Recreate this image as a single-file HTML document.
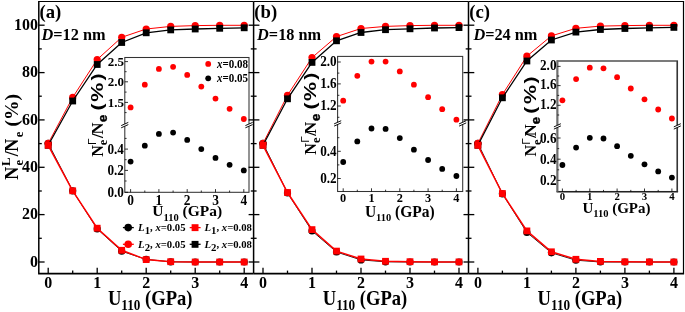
<!DOCTYPE html>
<html lang="en"><head><meta charset="utf-8"><title>Figure</title>
<style>html,body{margin:0;padding:0;background:#fff}svg{display:block;will-change:transform}</style>
</head><body>
<svg width="685" height="312" viewBox="0 0 685 312">
<rect width="685" height="312" fill="#fff"/>
<polyline fill="none" stroke="#000" stroke-width="0.90" points="48.2,143.4 72.7,190.8 97.2,228.9 121.7,251.2 146.2,259.4 170.7,261.8 195.2,262.0 219.7,262.0 244.2,262.0"/>
<circle cx="48.2" cy="143.4" r="3.60" fill="#000"/>
<circle cx="72.7" cy="190.8" r="3.60" fill="#000"/>
<circle cx="97.2" cy="228.9" r="3.60" fill="#000"/>
<circle cx="121.7" cy="251.2" r="3.60" fill="#000"/>
<circle cx="146.2" cy="259.4" r="3.60" fill="#000"/>
<circle cx="170.7" cy="261.8" r="3.60" fill="#000"/>
<circle cx="195.2" cy="262.0" r="3.60" fill="#000"/>
<circle cx="219.7" cy="262.0" r="3.60" fill="#000"/>
<circle cx="244.2" cy="262.0" r="3.60" fill="#000"/>
<polyline fill="none" stroke="#f00" stroke-width="1.00" points="48.2,143.4 72.7,97.4 97.2,59.5 121.7,37.3 146.2,29.0 170.7,26.4 195.2,25.6 219.7,25.3 244.2,25.3"/>
<circle cx="48.2" cy="143.4" r="3.60" fill="#f00"/>
<circle cx="72.7" cy="97.4" r="3.60" fill="#f00"/>
<circle cx="97.2" cy="59.5" r="3.60" fill="#f00"/>
<circle cx="121.7" cy="37.3" r="3.60" fill="#f00"/>
<circle cx="146.2" cy="29.0" r="3.60" fill="#f00"/>
<circle cx="170.7" cy="26.4" r="3.60" fill="#f00"/>
<circle cx="195.2" cy="25.6" r="3.60" fill="#f00"/>
<circle cx="219.7" cy="25.3" r="3.60" fill="#f00"/>
<circle cx="244.2" cy="25.3" r="3.60" fill="#f00"/>
<polyline fill="none" stroke="#000" stroke-width="1.30" points="48.2,145.3 72.7,101.0 97.2,64.5 121.7,42.5 146.2,32.8 170.7,29.9 195.2,29.0 219.7,28.3 244.2,27.8"/>
<rect x="44.8" y="141.9" width="6.8" height="6.8" fill="#000"/>
<rect x="69.3" y="97.6" width="6.8" height="6.8" fill="#000"/>
<rect x="93.8" y="61.1" width="6.8" height="6.8" fill="#000"/>
<rect x="118.3" y="39.1" width="6.8" height="6.8" fill="#000"/>
<rect x="142.8" y="29.4" width="6.8" height="6.8" fill="#000"/>
<rect x="167.3" y="26.5" width="6.8" height="6.8" fill="#000"/>
<rect x="191.8" y="25.6" width="6.8" height="6.8" fill="#000"/>
<rect x="216.3" y="24.9" width="6.8" height="6.8" fill="#000"/>
<rect x="240.8" y="24.4" width="6.8" height="6.8" fill="#000"/>
<polyline fill="none" stroke="#f00" stroke-width="1.50" points="48.2,145.3 72.7,190.8 97.2,228.2 121.7,250.3 146.2,259.6 170.7,261.7 195.2,262.0 219.7,262.0 244.2,262.0"/>
<rect x="44.8" y="141.9" width="6.8" height="6.8" fill="#f00"/>
<rect x="69.3" y="187.4" width="6.8" height="6.8" fill="#f00"/>
<rect x="93.8" y="224.8" width="6.8" height="6.8" fill="#f00"/>
<rect x="118.3" y="246.9" width="6.8" height="6.8" fill="#f00"/>
<rect x="142.8" y="256.2" width="6.8" height="6.8" fill="#f00"/>
<rect x="167.3" y="258.3" width="6.8" height="6.8" fill="#f00"/>
<rect x="191.8" y="258.6" width="6.8" height="6.8" fill="#f00"/>
<rect x="216.3" y="258.6" width="6.8" height="6.8" fill="#f00"/>
<rect x="240.8" y="258.6" width="6.8" height="6.8" fill="#f00"/>
<rect x="124.8" y="57.5" width="124.2" height="134.8" fill="#fff" stroke="#333" stroke-width="1.05"/>
<rect x="123.3" y="123.9" width="3" height="2.4" fill="#fff"/>
<line x1="121.2" y1="125.6" x2="128.3" y2="122.4" stroke="#000" stroke-width="0.95"/>
<line x1="121.2" y1="127.8" x2="128.3" y2="124.6" stroke="#000" stroke-width="0.95"/>
<rect x="247.5" y="123.9" width="3" height="2.4" fill="#fff"/>
<line x1="245.4" y1="125.6" x2="252.6" y2="122.4" stroke="#000" stroke-width="0.95"/>
<line x1="245.4" y1="127.8" x2="252.6" y2="124.6" stroke="#000" stroke-width="0.95"/>
<line x1="124.8" y1="61.6" x2="128.0" y2="61.6" stroke="#000" stroke-width="0.80"/>
<text transform="translate(123.90 65.70) scale(1 1.000)" font-family='"Liberation Serif", "DejaVu Serif", serif' font-size="13.0" font-weight="bold" text-anchor="end" >2.5</text>
<line x1="124.8" y1="81.8" x2="128.0" y2="81.8" stroke="#000" stroke-width="0.80"/>
<text transform="translate(123.90 85.90) scale(1 1.000)" font-family='"Liberation Serif", "DejaVu Serif", serif' font-size="13.0" font-weight="bold" text-anchor="end" >2.0</text>
<line x1="124.8" y1="102.4" x2="128.0" y2="102.4" stroke="#000" stroke-width="0.80"/>
<text transform="translate(123.90 106.50) scale(1 1.000)" font-family='"Liberation Serif", "DejaVu Serif", serif' font-size="13.0" font-weight="bold" text-anchor="end" >1.5</text>
<line x1="124.8" y1="149.1" x2="128.0" y2="149.1" stroke="#000" stroke-width="0.80"/>
<text transform="translate(123.90 153.60) scale(1 1.150)" font-family='"Liberation Serif", "DejaVu Serif", serif' font-size="13.2" font-weight="bold" text-anchor="end" >0.4</text>
<line x1="124.8" y1="170.4" x2="128.0" y2="170.4" stroke="#000" stroke-width="0.80"/>
<text transform="translate(123.90 174.90) scale(1 1.150)" font-family='"Liberation Serif", "DejaVu Serif", serif' font-size="13.2" font-weight="bold" text-anchor="end" >0.2</text>
<line x1="124.8" y1="192.3" x2="128.0" y2="192.3" stroke="#000" stroke-width="0.80"/>
<text transform="translate(123.90 196.80) scale(1 1.150)" font-family='"Liberation Serif", "DejaVu Serif", serif' font-size="13.2" font-weight="bold" text-anchor="end" >0.0</text>
<line x1="124.8" y1="71.7" x2="126.6" y2="71.7" stroke="#000" stroke-width="0.80"/>
<line x1="124.8" y1="92.1" x2="126.6" y2="92.1" stroke="#000" stroke-width="0.80"/>
<line x1="124.8" y1="112.6" x2="126.6" y2="112.6" stroke="#000" stroke-width="0.80"/>
<line x1="124.8" y1="138.4" x2="126.6" y2="138.4" stroke="#000" stroke-width="0.80"/>
<line x1="124.8" y1="159.7" x2="126.6" y2="159.7" stroke="#000" stroke-width="0.80"/>
<line x1="124.8" y1="181.0" x2="126.6" y2="181.0" stroke="#000" stroke-width="0.80"/>
<line x1="130.6" y1="192.3" x2="130.6" y2="189.1" stroke="#000" stroke-width="0.80"/>
<text transform="translate(130.60 204.80) scale(1 1.050)" font-family='"Liberation Serif", "DejaVu Serif", serif' font-size="13.4" font-weight="bold" text-anchor="middle" >0</text>
<line x1="158.9" y1="192.3" x2="158.9" y2="189.1" stroke="#000" stroke-width="0.80"/>
<text transform="translate(158.90 204.80) scale(1 1.050)" font-family='"Liberation Serif", "DejaVu Serif", serif' font-size="13.4" font-weight="bold" text-anchor="middle" >1</text>
<line x1="187.2" y1="192.3" x2="187.2" y2="189.1" stroke="#000" stroke-width="0.80"/>
<text transform="translate(187.20 204.80) scale(1 1.050)" font-family='"Liberation Serif", "DejaVu Serif", serif' font-size="13.4" font-weight="bold" text-anchor="middle" >2</text>
<line x1="215.5" y1="192.3" x2="215.5" y2="189.1" stroke="#000" stroke-width="0.80"/>
<text transform="translate(215.50 204.80) scale(1 1.050)" font-family='"Liberation Serif", "DejaVu Serif", serif' font-size="13.4" font-weight="bold" text-anchor="middle" >3</text>
<line x1="243.8" y1="192.3" x2="243.8" y2="189.1" stroke="#000" stroke-width="0.80"/>
<text transform="translate(243.80 204.80) scale(1 1.050)" font-family='"Liberation Serif", "DejaVu Serif", serif' font-size="13.4" font-weight="bold" text-anchor="middle" >4</text>
<line x1="144.8" y1="192.3" x2="144.8" y2="190.5" stroke="#000" stroke-width="0.80"/>
<line x1="173.1" y1="192.3" x2="173.1" y2="190.5" stroke="#000" stroke-width="0.80"/>
<line x1="201.3" y1="192.3" x2="201.3" y2="190.5" stroke="#000" stroke-width="0.80"/>
<line x1="229.6" y1="192.3" x2="229.6" y2="190.5" stroke="#000" stroke-width="0.80"/>
<circle cx="130.6" cy="107.4" r="2.90" fill="#f00"/>
<circle cx="130.6" cy="161.6" r="2.90" fill="#000"/>
<circle cx="144.8" cy="84.7" r="2.90" fill="#f00"/>
<circle cx="144.8" cy="145.7" r="2.90" fill="#000"/>
<circle cx="158.9" cy="68.9" r="2.90" fill="#f00"/>
<circle cx="158.9" cy="133.9" r="2.90" fill="#000"/>
<circle cx="173.1" cy="66.8" r="2.90" fill="#f00"/>
<circle cx="173.1" cy="132.6" r="2.90" fill="#000"/>
<circle cx="187.2" cy="74.9" r="2.90" fill="#f00"/>
<circle cx="187.2" cy="139.9" r="2.90" fill="#000"/>
<circle cx="201.3" cy="86.6" r="2.90" fill="#f00"/>
<circle cx="201.3" cy="149.1" r="2.90" fill="#000"/>
<circle cx="215.5" cy="98.6" r="2.90" fill="#f00"/>
<circle cx="215.5" cy="157.9" r="2.90" fill="#000"/>
<circle cx="229.6" cy="108.8" r="2.90" fill="#f00"/>
<circle cx="229.6" cy="164.8" r="2.90" fill="#000"/>
<circle cx="243.8" cy="119.0" r="2.90" fill="#f00"/>
<circle cx="243.8" cy="170.4" r="2.90" fill="#000"/>
<text transform="translate(187.20 216.40) scale(1 1.000)" font-family='"Liberation Serif", "DejaVu Serif", serif' font-size="15.5" font-weight="bold" text-anchor="middle" >U<tspan font-size="10.5" dy="4.2">110</tspan><tspan dy="-4.2"> (GPa)</tspan></text>
<text transform="translate(103.10 156.80) rotate(-90) scale(1.000 1.000)" font-family='"Liberation Serif", "DejaVu Serif", serif' font-size="16.2" font-weight="bold" >N</text>
<text transform="translate(95.90 144.90) rotate(-90) scale(1.100 1.000)" font-family='"Liberation Sans", "DejaVu Sans", sans-serif' font-size="10.8" font-weight="normal" >Γ</text>
<text transform="translate(106.80 145.20) rotate(-90) scale(1.000 1.000)" font-family='"Liberation Serif", "DejaVu Serif", serif' font-size="12.3" font-weight="bold" >e</text>
<text transform="translate(103.10 137.90) rotate(-90) scale(1.000 1.000)" font-family='"Liberation Serif", "DejaVu Serif", serif' font-size="16.2" font-weight="bold" >/</text>
<text transform="translate(103.10 134.60) rotate(-90) scale(1.000 1.000)" font-family='"Liberation Serif", "DejaVu Serif", serif' font-size="16.6" font-weight="bold" >N</text>
<text transform="translate(107.00 121.90) rotate(-90) scale(1.000 1.000)" font-family='"Liberation Sans", "DejaVu Sans", sans-serif' font-size="13.0" font-weight="bold" stroke="#000" stroke-width="0.35">e</text>
<text transform="translate(103.00 110.40) rotate(-90) scale(1.240 1.000)" font-family='"Liberation Sans", "DejaVu Sans", sans-serif' font-size="17.2" font-weight="bold" >(</text>
<text transform="translate(103.00 101.70) rotate(-90) scale(1.240 1.000)" font-family='"Liberation Sans", "DejaVu Sans", sans-serif' font-size="17.2" font-weight="bold" >%</text>
<text transform="translate(103.00 80.50) rotate(-90) scale(1.240 1.000)" font-family='"Liberation Sans", "DejaVu Sans", sans-serif' font-size="17.2" font-weight="bold" >)</text>
<line x1="38.1" y1="1.5" x2="253.6" y2="1.5" stroke="#000" stroke-width="1.10"/>
<line x1="38.1" y1="273.6" x2="253.6" y2="273.6" stroke="#000" stroke-width="1.80"/>
<line x1="38.8" y1="1.5" x2="38.8" y2="273.6" stroke="#000" stroke-width="1.50"/>
<line x1="38.8" y1="262.0" x2="44.6" y2="262.0" stroke="#000" stroke-width="1.30"/>
<line x1="38.8" y1="238.3" x2="41.8" y2="238.3" stroke="#000" stroke-width="1.30"/>
<line x1="38.8" y1="214.6" x2="44.6" y2="214.6" stroke="#000" stroke-width="1.30"/>
<line x1="38.8" y1="191.0" x2="41.8" y2="191.0" stroke="#000" stroke-width="1.30"/>
<line x1="38.8" y1="167.3" x2="44.6" y2="167.3" stroke="#000" stroke-width="1.30"/>
<line x1="38.8" y1="143.6" x2="41.8" y2="143.6" stroke="#000" stroke-width="1.30"/>
<line x1="38.8" y1="119.9" x2="44.6" y2="119.9" stroke="#000" stroke-width="1.30"/>
<line x1="38.8" y1="96.2" x2="41.8" y2="96.2" stroke="#000" stroke-width="1.30"/>
<line x1="38.8" y1="72.6" x2="44.6" y2="72.6" stroke="#000" stroke-width="1.30"/>
<line x1="38.8" y1="48.9" x2="41.8" y2="48.9" stroke="#000" stroke-width="1.30"/>
<line x1="38.8" y1="25.2" x2="44.6" y2="25.2" stroke="#000" stroke-width="1.30"/>
<line x1="48.2" y1="273.6" x2="48.2" y2="267.8" stroke="#000" stroke-width="1.30"/>
<text transform="translate(48.20 287.80) scale(1 1.100)" font-family='"Liberation Serif", "DejaVu Serif", serif' font-size="16.0" font-weight="bold" text-anchor="middle" >0</text>
<line x1="72.7" y1="273.6" x2="72.7" y2="270.6" stroke="#000" stroke-width="1.30"/>
<line x1="97.2" y1="273.6" x2="97.2" y2="267.8" stroke="#000" stroke-width="1.30"/>
<text transform="translate(97.20 287.80) scale(1 1.100)" font-family='"Liberation Serif", "DejaVu Serif", serif' font-size="16.0" font-weight="bold" text-anchor="middle" >1</text>
<line x1="121.7" y1="273.6" x2="121.7" y2="270.6" stroke="#000" stroke-width="1.30"/>
<line x1="146.2" y1="273.6" x2="146.2" y2="267.8" stroke="#000" stroke-width="1.30"/>
<text transform="translate(146.20 287.80) scale(1 1.100)" font-family='"Liberation Serif", "DejaVu Serif", serif' font-size="16.0" font-weight="bold" text-anchor="middle" >2</text>
<line x1="170.7" y1="273.6" x2="170.7" y2="270.6" stroke="#000" stroke-width="1.30"/>
<line x1="195.2" y1="273.6" x2="195.2" y2="267.8" stroke="#000" stroke-width="1.30"/>
<text transform="translate(195.20 287.80) scale(1 1.100)" font-family='"Liberation Serif", "DejaVu Serif", serif' font-size="16.0" font-weight="bold" text-anchor="middle" >3</text>
<line x1="219.7" y1="273.6" x2="219.7" y2="270.6" stroke="#000" stroke-width="1.30"/>
<line x1="244.2" y1="273.6" x2="244.2" y2="267.8" stroke="#000" stroke-width="1.30"/>
<text transform="translate(244.20 287.80) scale(1 1.100)" font-family='"Liberation Serif", "DejaVu Serif", serif' font-size="16.0" font-weight="bold" text-anchor="middle" >4</text>
<text transform="translate(150.20 305.00) scale(1 1.080)" font-family='"Liberation Serif", "DejaVu Serif", serif' font-size="18.6" font-weight="bold" text-anchor="middle" >U<tspan font-size="13.2" dy="5.0">110</tspan><tspan dy="-5.0"> (GPa)</tspan></text>
<text transform="translate(39.50 17.80) scale(1 1.040)" font-family='"Liberation Serif", "DejaVu Serif", serif' font-size="18.7" font-weight="bold" text-anchor="start" >(a)</text>
<text transform="translate(41.50 39.60) scale(1 1.050)" font-family='"Liberation Serif", "DejaVu Serif", serif' font-size="16.3" font-weight="bold" text-anchor="start" ><tspan font-style="italic">D</tspan>=12 nm</text>
<polyline fill="none" stroke="#000" stroke-width="0.90" points="263.0,143.4 287.5,193.0 312.0,230.9 336.5,252.0 361.0,259.9 385.5,261.8 410.0,262.0 434.5,262.0 459.0,262.0"/>
<circle cx="263.0" cy="143.4" r="3.60" fill="#000"/>
<circle cx="287.5" cy="193.0" r="3.60" fill="#000"/>
<circle cx="312.0" cy="230.9" r="3.60" fill="#000"/>
<circle cx="336.5" cy="252.0" r="3.60" fill="#000"/>
<circle cx="361.0" cy="259.9" r="3.60" fill="#000"/>
<circle cx="385.5" cy="261.8" r="3.60" fill="#000"/>
<circle cx="410.0" cy="262.0" r="3.60" fill="#000"/>
<circle cx="434.5" cy="262.0" r="3.60" fill="#000"/>
<circle cx="459.0" cy="262.0" r="3.60" fill="#000"/>
<polyline fill="none" stroke="#f00" stroke-width="1.00" points="263.0,143.4 287.5,95.3 312.0,57.6 336.5,36.6 361.0,28.5 385.5,26.4 410.0,25.6 434.5,25.3 459.0,25.3"/>
<circle cx="263.0" cy="143.4" r="3.60" fill="#f00"/>
<circle cx="287.5" cy="95.3" r="3.60" fill="#f00"/>
<circle cx="312.0" cy="57.6" r="3.60" fill="#f00"/>
<circle cx="336.5" cy="36.6" r="3.60" fill="#f00"/>
<circle cx="361.0" cy="28.5" r="3.60" fill="#f00"/>
<circle cx="385.5" cy="26.4" r="3.60" fill="#f00"/>
<circle cx="410.0" cy="25.6" r="3.60" fill="#f00"/>
<circle cx="434.5" cy="25.3" r="3.60" fill="#f00"/>
<circle cx="459.0" cy="25.3" r="3.60" fill="#f00"/>
<polyline fill="none" stroke="#000" stroke-width="1.30" points="263.0,145.3 287.5,98.8 312.0,62.4 336.5,40.8 361.0,32.5 385.5,29.7 410.0,28.8 434.5,28.0 459.0,27.6"/>
<rect x="259.6" y="141.9" width="6.8" height="6.8" fill="#000"/>
<rect x="284.1" y="95.4" width="6.8" height="6.8" fill="#000"/>
<rect x="308.6" y="59.0" width="6.8" height="6.8" fill="#000"/>
<rect x="333.1" y="37.4" width="6.8" height="6.8" fill="#000"/>
<rect x="357.6" y="29.1" width="6.8" height="6.8" fill="#000"/>
<rect x="382.1" y="26.3" width="6.8" height="6.8" fill="#000"/>
<rect x="406.6" y="25.4" width="6.8" height="6.8" fill="#000"/>
<rect x="431.1" y="24.6" width="6.8" height="6.8" fill="#000"/>
<rect x="455.6" y="24.2" width="6.8" height="6.8" fill="#000"/>
<polyline fill="none" stroke="#f00" stroke-width="1.50" points="263.0,145.3 287.5,192.5 312.0,229.6 336.5,251.1 361.0,259.0 385.5,261.3 410.0,261.7 434.5,261.9 459.0,261.9"/>
<rect x="259.6" y="141.9" width="6.8" height="6.8" fill="#f00"/>
<rect x="284.1" y="189.1" width="6.8" height="6.8" fill="#f00"/>
<rect x="308.6" y="226.2" width="6.8" height="6.8" fill="#f00"/>
<rect x="333.1" y="247.7" width="6.8" height="6.8" fill="#f00"/>
<rect x="357.6" y="255.6" width="6.8" height="6.8" fill="#f00"/>
<rect x="382.1" y="257.9" width="6.8" height="6.8" fill="#f00"/>
<rect x="406.6" y="258.3" width="6.8" height="6.8" fill="#f00"/>
<rect x="431.1" y="258.5" width="6.8" height="6.8" fill="#f00"/>
<rect x="455.6" y="258.5" width="6.8" height="6.8" fill="#f00"/>
<rect x="337.6" y="56.4" width="125.1" height="135.1" fill="#fff" stroke="#333" stroke-width="1.05"/>
<rect x="336.1" y="122.2" width="3" height="2.4" fill="#fff"/>
<line x1="334.1" y1="123.9" x2="341.2" y2="120.7" stroke="#000" stroke-width="0.95"/>
<line x1="334.1" y1="126.1" x2="341.2" y2="122.9" stroke="#000" stroke-width="0.95"/>
<rect x="461.2" y="122.2" width="3" height="2.4" fill="#fff"/>
<line x1="459.1" y1="123.9" x2="466.2" y2="120.7" stroke="#000" stroke-width="0.95"/>
<line x1="459.1" y1="126.1" x2="466.2" y2="122.9" stroke="#000" stroke-width="0.95"/>
<line x1="337.6" y1="62.0" x2="340.8" y2="62.0" stroke="#000" stroke-width="0.80"/>
<text transform="translate(336.70 65.80) scale(1 1.140)" font-family='"Liberation Serif", "DejaVu Serif", serif' font-size="13.2" font-weight="bold" text-anchor="end" >2.0</text>
<line x1="337.6" y1="83.9" x2="340.8" y2="83.9" stroke="#000" stroke-width="0.80"/>
<text transform="translate(336.70 87.70) scale(1 1.140)" font-family='"Liberation Serif", "DejaVu Serif", serif' font-size="13.2" font-weight="bold" text-anchor="end" >1.6</text>
<line x1="337.6" y1="106.0" x2="340.8" y2="106.0" stroke="#000" stroke-width="0.80"/>
<text transform="translate(336.70 109.80) scale(1 1.140)" font-family='"Liberation Serif", "DejaVu Serif", serif' font-size="13.2" font-weight="bold" text-anchor="end" >1.2</text>
<line x1="337.6" y1="151.3" x2="340.8" y2="151.3" stroke="#000" stroke-width="0.80"/>
<text transform="translate(336.70 155.80) scale(1 1.150)" font-family='"Liberation Serif", "DejaVu Serif", serif' font-size="13.2" font-weight="bold" text-anchor="end" >0.4</text>
<line x1="337.6" y1="178.5" x2="340.8" y2="178.5" stroke="#000" stroke-width="0.80"/>
<text transform="translate(336.70 183.00) scale(1 1.150)" font-family='"Liberation Serif", "DejaVu Serif", serif' font-size="13.2" font-weight="bold" text-anchor="end" >0.2</text>
<line x1="337.6" y1="73.1" x2="339.4" y2="73.1" stroke="#000" stroke-width="0.80"/>
<line x1="337.6" y1="95.3" x2="339.4" y2="95.3" stroke="#000" stroke-width="0.80"/>
<line x1="337.6" y1="117.3" x2="339.4" y2="117.3" stroke="#000" stroke-width="0.80"/>
<line x1="337.6" y1="137.7" x2="339.4" y2="137.7" stroke="#000" stroke-width="0.80"/>
<line x1="337.6" y1="164.9" x2="339.4" y2="164.9" stroke="#000" stroke-width="0.80"/>
<line x1="343.2" y1="191.5" x2="343.2" y2="188.3" stroke="#000" stroke-width="0.80"/>
<text transform="translate(343.20 201.60) scale(1 1.000)" font-family='"Liberation Serif", "DejaVu Serif", serif' font-size="12.3" font-weight="bold" text-anchor="middle" >0</text>
<line x1="371.5" y1="191.5" x2="371.5" y2="188.3" stroke="#000" stroke-width="0.80"/>
<text transform="translate(371.50 201.60) scale(1 1.000)" font-family='"Liberation Serif", "DejaVu Serif", serif' font-size="12.3" font-weight="bold" text-anchor="middle" >1</text>
<line x1="399.8" y1="191.5" x2="399.8" y2="188.3" stroke="#000" stroke-width="0.80"/>
<text transform="translate(399.80 201.60) scale(1 1.000)" font-family='"Liberation Serif", "DejaVu Serif", serif' font-size="12.3" font-weight="bold" text-anchor="middle" >2</text>
<line x1="428.1" y1="191.5" x2="428.1" y2="188.3" stroke="#000" stroke-width="0.80"/>
<text transform="translate(428.10 201.60) scale(1 1.000)" font-family='"Liberation Serif", "DejaVu Serif", serif' font-size="12.3" font-weight="bold" text-anchor="middle" >3</text>
<line x1="456.4" y1="191.5" x2="456.4" y2="188.3" stroke="#000" stroke-width="0.80"/>
<text transform="translate(456.40 201.60) scale(1 1.000)" font-family='"Liberation Serif", "DejaVu Serif", serif' font-size="12.3" font-weight="bold" text-anchor="middle" >4</text>
<line x1="357.3" y1="191.5" x2="357.3" y2="189.7" stroke="#000" stroke-width="0.80"/>
<line x1="385.6" y1="191.5" x2="385.6" y2="189.7" stroke="#000" stroke-width="0.80"/>
<line x1="413.9" y1="191.5" x2="413.9" y2="189.7" stroke="#000" stroke-width="0.80"/>
<line x1="442.2" y1="191.5" x2="442.2" y2="189.7" stroke="#000" stroke-width="0.80"/>
<circle cx="343.2" cy="100.7" r="2.90" fill="#f00"/>
<circle cx="343.2" cy="162.0" r="2.90" fill="#000"/>
<circle cx="357.3" cy="75.8" r="2.90" fill="#f00"/>
<circle cx="357.3" cy="141.4" r="2.90" fill="#000"/>
<circle cx="371.5" cy="61.6" r="2.90" fill="#f00"/>
<circle cx="371.5" cy="128.5" r="2.90" fill="#000"/>
<circle cx="385.6" cy="61.6" r="2.90" fill="#f00"/>
<circle cx="385.6" cy="128.9" r="2.90" fill="#000"/>
<circle cx="399.8" cy="71.4" r="2.90" fill="#f00"/>
<circle cx="399.8" cy="138.1" r="2.90" fill="#000"/>
<circle cx="413.9" cy="84.7" r="2.90" fill="#f00"/>
<circle cx="413.9" cy="149.7" r="2.90" fill="#000"/>
<circle cx="428.1" cy="97.2" r="2.90" fill="#f00"/>
<circle cx="428.1" cy="160.0" r="2.90" fill="#000"/>
<circle cx="442.2" cy="109.2" r="2.90" fill="#f00"/>
<circle cx="442.2" cy="168.9" r="2.90" fill="#000"/>
<circle cx="456.4" cy="119.7" r="2.90" fill="#f00"/>
<circle cx="456.4" cy="176.0" r="2.90" fill="#000"/>
<text transform="translate(399.80 216.60) scale(1 1.060)" font-family='"Liberation Serif", "DejaVu Serif", serif' font-size="15.5" font-weight="bold" text-anchor="middle" >U<tspan font-size="10.5" dy="4.2">110</tspan><tspan dy="-4.2"> (GPa)</tspan></text>
<text transform="translate(316.30 154.70) rotate(-90) scale(1.000 1.000)" font-family='"Liberation Serif", "DejaVu Serif", serif' font-size="16.2" font-weight="bold" >N</text>
<text transform="translate(309.10 142.80) rotate(-90) scale(1.100 1.000)" font-family='"Liberation Sans", "DejaVu Sans", sans-serif' font-size="10.8" font-weight="normal" >Γ</text>
<text transform="translate(320.00 143.10) rotate(-90) scale(1.000 1.000)" font-family='"Liberation Serif", "DejaVu Serif", serif' font-size="12.3" font-weight="bold" >e</text>
<text transform="translate(316.30 135.80) rotate(-90) scale(1.000 1.000)" font-family='"Liberation Serif", "DejaVu Serif", serif' font-size="16.2" font-weight="bold" >/</text>
<text transform="translate(316.30 133.80) rotate(-90) scale(1.000 1.000)" font-family='"Liberation Serif", "DejaVu Serif", serif' font-size="16.6" font-weight="bold" >N</text>
<text transform="translate(320.20 121.10) rotate(-90) scale(1.000 1.000)" font-family='"Liberation Sans", "DejaVu Sans", sans-serif' font-size="13.0" font-weight="bold" stroke="#000" stroke-width="0.35">e</text>
<text transform="translate(316.20 109.60) rotate(-90) scale(1.240 1.000)" font-family='"Liberation Sans", "DejaVu Sans", sans-serif' font-size="17.2" font-weight="bold" >(</text>
<text transform="translate(316.20 100.90) rotate(-90) scale(1.240 1.000)" font-family='"Liberation Sans", "DejaVu Sans", sans-serif' font-size="17.2" font-weight="bold" >%</text>
<text transform="translate(316.20 79.70) rotate(-90) scale(1.240 1.000)" font-family='"Liberation Sans", "DejaVu Sans", sans-serif' font-size="17.2" font-weight="bold" >)</text>
<line x1="253.6" y1="1.5" x2="468.5" y2="1.5" stroke="#000" stroke-width="1.10"/>
<line x1="253.6" y1="273.6" x2="468.5" y2="273.6" stroke="#000" stroke-width="1.80"/>
<line x1="253.6" y1="1.5" x2="253.6" y2="273.6" stroke="#000" stroke-width="1.50"/>
<line x1="253.6" y1="262.0" x2="259.4" y2="262.0" stroke="#000" stroke-width="1.30"/>
<line x1="248.6" y1="262.0" x2="253.6" y2="262.0" stroke="#000" stroke-width="1.30"/>
<line x1="253.6" y1="238.3" x2="256.6" y2="238.3" stroke="#000" stroke-width="1.30"/>
<line x1="250.8" y1="238.3" x2="253.6" y2="238.3" stroke="#000" stroke-width="1.30"/>
<line x1="253.6" y1="214.6" x2="259.4" y2="214.6" stroke="#000" stroke-width="1.30"/>
<line x1="248.6" y1="214.6" x2="253.6" y2="214.6" stroke="#000" stroke-width="1.30"/>
<line x1="253.6" y1="191.0" x2="256.6" y2="191.0" stroke="#000" stroke-width="1.30"/>
<line x1="250.8" y1="191.0" x2="253.6" y2="191.0" stroke="#000" stroke-width="1.30"/>
<line x1="253.6" y1="167.3" x2="259.4" y2="167.3" stroke="#000" stroke-width="1.30"/>
<line x1="248.6" y1="167.3" x2="253.6" y2="167.3" stroke="#000" stroke-width="1.30"/>
<line x1="253.6" y1="143.6" x2="256.6" y2="143.6" stroke="#000" stroke-width="1.30"/>
<line x1="250.8" y1="143.6" x2="253.6" y2="143.6" stroke="#000" stroke-width="1.30"/>
<line x1="253.6" y1="119.9" x2="259.4" y2="119.9" stroke="#000" stroke-width="1.30"/>
<line x1="248.6" y1="119.9" x2="253.6" y2="119.9" stroke="#000" stroke-width="1.30"/>
<line x1="253.6" y1="96.2" x2="256.6" y2="96.2" stroke="#000" stroke-width="1.30"/>
<line x1="250.8" y1="96.2" x2="253.6" y2="96.2" stroke="#000" stroke-width="1.30"/>
<line x1="253.6" y1="72.6" x2="259.4" y2="72.6" stroke="#000" stroke-width="1.30"/>
<line x1="248.6" y1="72.6" x2="253.6" y2="72.6" stroke="#000" stroke-width="1.30"/>
<line x1="253.6" y1="48.9" x2="256.6" y2="48.9" stroke="#000" stroke-width="1.30"/>
<line x1="250.8" y1="48.9" x2="253.6" y2="48.9" stroke="#000" stroke-width="1.30"/>
<line x1="253.6" y1="25.2" x2="259.4" y2="25.2" stroke="#000" stroke-width="1.30"/>
<line x1="248.6" y1="25.2" x2="253.6" y2="25.2" stroke="#000" stroke-width="1.30"/>
<line x1="263.0" y1="273.6" x2="263.0" y2="267.8" stroke="#000" stroke-width="1.30"/>
<text transform="translate(263.00 287.80) scale(1 1.100)" font-family='"Liberation Serif", "DejaVu Serif", serif' font-size="16.0" font-weight="bold" text-anchor="middle" >0</text>
<line x1="287.5" y1="273.6" x2="287.5" y2="270.6" stroke="#000" stroke-width="1.30"/>
<line x1="312.0" y1="273.6" x2="312.0" y2="267.8" stroke="#000" stroke-width="1.30"/>
<text transform="translate(312.00 287.80) scale(1 1.100)" font-family='"Liberation Serif", "DejaVu Serif", serif' font-size="16.0" font-weight="bold" text-anchor="middle" >1</text>
<line x1="336.5" y1="273.6" x2="336.5" y2="270.6" stroke="#000" stroke-width="1.30"/>
<line x1="361.0" y1="273.6" x2="361.0" y2="267.8" stroke="#000" stroke-width="1.30"/>
<text transform="translate(361.00 287.80) scale(1 1.100)" font-family='"Liberation Serif", "DejaVu Serif", serif' font-size="16.0" font-weight="bold" text-anchor="middle" >2</text>
<line x1="385.5" y1="273.6" x2="385.5" y2="270.6" stroke="#000" stroke-width="1.30"/>
<line x1="410.0" y1="273.6" x2="410.0" y2="267.8" stroke="#000" stroke-width="1.30"/>
<text transform="translate(410.00 287.80) scale(1 1.100)" font-family='"Liberation Serif", "DejaVu Serif", serif' font-size="16.0" font-weight="bold" text-anchor="middle" >3</text>
<line x1="434.5" y1="273.6" x2="434.5" y2="270.6" stroke="#000" stroke-width="1.30"/>
<line x1="459.0" y1="273.6" x2="459.0" y2="267.8" stroke="#000" stroke-width="1.30"/>
<text transform="translate(459.00 287.80) scale(1 1.100)" font-family='"Liberation Serif", "DejaVu Serif", serif' font-size="16.0" font-weight="bold" text-anchor="middle" >4</text>
<text transform="translate(365.00 305.00) scale(1 1.080)" font-family='"Liberation Serif", "DejaVu Serif", serif' font-size="18.6" font-weight="bold" text-anchor="middle" >U<tspan font-size="13.2" dy="5.0">110</tspan><tspan dy="-5.0"> (GPa)</tspan></text>
<text transform="translate(254.30 17.80) scale(1 1.040)" font-family='"Liberation Serif", "DejaVu Serif", serif' font-size="18.7" font-weight="bold" text-anchor="start" >(b)</text>
<text transform="translate(257.10 39.60) scale(1 1.050)" font-family='"Liberation Serif", "DejaVu Serif", serif' font-size="16.3" font-weight="bold" text-anchor="start" ><tspan font-style="italic">D</tspan>=18 nm</text>
<polyline fill="none" stroke="#000" stroke-width="0.90" points="477.9,143.4 502.4,193.8 526.9,232.4 551.4,252.8 575.9,260.2 600.4,262.0 624.9,262.0 649.4,262.0 673.9,262.0"/>
<circle cx="477.9" cy="143.4" r="3.60" fill="#000"/>
<circle cx="502.4" cy="193.8" r="3.60" fill="#000"/>
<circle cx="526.9" cy="232.4" r="3.60" fill="#000"/>
<circle cx="551.4" cy="252.8" r="3.60" fill="#000"/>
<circle cx="575.9" cy="260.2" r="3.60" fill="#000"/>
<circle cx="600.4" cy="262.0" r="3.60" fill="#000"/>
<circle cx="624.9" cy="262.0" r="3.60" fill="#000"/>
<circle cx="649.4" cy="262.0" r="3.60" fill="#000"/>
<circle cx="673.9" cy="262.0" r="3.60" fill="#000"/>
<polyline fill="none" stroke="#f00" stroke-width="1.00" points="477.9,143.4 502.4,94.6 526.9,56.2 551.4,35.9 575.9,28.3 600.4,26.1 624.9,25.6 649.4,25.3 673.9,25.3"/>
<circle cx="477.9" cy="143.4" r="3.60" fill="#f00"/>
<circle cx="502.4" cy="94.6" r="3.60" fill="#f00"/>
<circle cx="526.9" cy="56.2" r="3.60" fill="#f00"/>
<circle cx="551.4" cy="35.9" r="3.60" fill="#f00"/>
<circle cx="575.9" cy="28.3" r="3.60" fill="#f00"/>
<circle cx="600.4" cy="26.1" r="3.60" fill="#f00"/>
<circle cx="624.9" cy="25.6" r="3.60" fill="#f00"/>
<circle cx="649.4" cy="25.3" r="3.60" fill="#f00"/>
<circle cx="673.9" cy="25.3" r="3.60" fill="#f00"/>
<polyline fill="none" stroke="#000" stroke-width="1.30" points="477.9,145.3 502.4,97.8 526.9,61.0 551.4,40.0 575.9,32.1 600.4,29.5 624.9,28.5 649.4,27.9 673.9,27.4"/>
<rect x="474.5" y="141.9" width="6.8" height="6.8" fill="#000"/>
<rect x="499.0" y="94.4" width="6.8" height="6.8" fill="#000"/>
<rect x="523.5" y="57.6" width="6.8" height="6.8" fill="#000"/>
<rect x="548.0" y="36.6" width="6.8" height="6.8" fill="#000"/>
<rect x="572.5" y="28.7" width="6.8" height="6.8" fill="#000"/>
<rect x="597.0" y="26.1" width="6.8" height="6.8" fill="#000"/>
<rect x="621.5" y="25.1" width="6.8" height="6.8" fill="#000"/>
<rect x="646.0" y="24.5" width="6.8" height="6.8" fill="#000"/>
<rect x="670.5" y="24.0" width="6.8" height="6.8" fill="#000"/>
<polyline fill="none" stroke="#f00" stroke-width="1.50" points="477.9,145.3 502.4,193.5 526.9,230.9 551.4,251.8 575.9,259.3 600.4,261.4 624.9,261.8 649.4,261.9 673.9,262.0"/>
<rect x="474.5" y="141.9" width="6.8" height="6.8" fill="#f00"/>
<rect x="499.0" y="190.1" width="6.8" height="6.8" fill="#f00"/>
<rect x="523.5" y="227.5" width="6.8" height="6.8" fill="#f00"/>
<rect x="548.0" y="248.4" width="6.8" height="6.8" fill="#f00"/>
<rect x="572.5" y="255.9" width="6.8" height="6.8" fill="#f00"/>
<rect x="597.0" y="258.0" width="6.8" height="6.8" fill="#f00"/>
<rect x="621.5" y="258.4" width="6.8" height="6.8" fill="#f00"/>
<rect x="646.0" y="258.5" width="6.8" height="6.8" fill="#f00"/>
<rect x="670.5" y="258.6" width="6.8" height="6.8" fill="#f00"/>
<rect x="557.4" y="61.0" width="119.9" height="130.7" fill="#fff" stroke="#505050" stroke-width="1.50"/>
<line x1="556.6" y1="191.7" x2="678.1" y2="191.7" stroke="#222" stroke-width="1.30"/>
<line x1="677.3" y1="61.0" x2="677.3" y2="191.7" stroke="#333" stroke-width="1.20"/>
<line x1="557.4" y1="60.3" x2="557.4" y2="191.7" stroke="#6e6e6e" stroke-width="1.90"/>
<rect x="555.9" y="125.2" width="3" height="2.4" fill="#fff"/>
<line x1="553.9" y1="126.9" x2="560.9" y2="123.7" stroke="#000" stroke-width="0.95"/>
<line x1="553.9" y1="129.1" x2="560.9" y2="125.9" stroke="#000" stroke-width="0.95"/>
<rect x="675.8" y="125.2" width="3" height="2.4" fill="#fff"/>
<line x1="673.8" y1="126.9" x2="680.8" y2="123.7" stroke="#000" stroke-width="0.95"/>
<line x1="673.8" y1="129.1" x2="680.8" y2="125.9" stroke="#000" stroke-width="0.95"/>
<line x1="557.4" y1="66.4" x2="560.6" y2="66.4" stroke="#000" stroke-width="0.80"/>
<text transform="translate(556.50 70.20) scale(1 1.140)" font-family='"Liberation Serif", "DejaVu Serif", serif' font-size="13.2" font-weight="bold" text-anchor="end" >2.0</text>
<line x1="557.4" y1="85.6" x2="560.6" y2="85.6" stroke="#000" stroke-width="0.80"/>
<text transform="translate(556.50 89.40) scale(1 1.140)" font-family='"Liberation Serif", "DejaVu Serif", serif' font-size="13.2" font-weight="bold" text-anchor="end" >1.6</text>
<line x1="557.4" y1="105.3" x2="560.6" y2="105.3" stroke="#000" stroke-width="0.80"/>
<text transform="translate(556.50 109.10) scale(1 1.140)" font-family='"Liberation Serif", "DejaVu Serif", serif' font-size="13.2" font-weight="bold" text-anchor="end" >1.2</text>
<line x1="557.4" y1="138.0" x2="560.6" y2="138.0" stroke="#000" stroke-width="0.80"/>
<text transform="translate(556.50 142.50) scale(1 1.150)" font-family='"Liberation Serif", "DejaVu Serif", serif' font-size="13.2" font-weight="bold" text-anchor="end" >0.6</text>
<line x1="557.4" y1="159.2" x2="560.6" y2="159.2" stroke="#000" stroke-width="0.80"/>
<text transform="translate(556.50 163.70) scale(1 1.150)" font-family='"Liberation Serif", "DejaVu Serif", serif' font-size="13.2" font-weight="bold" text-anchor="end" >0.4</text>
<line x1="557.4" y1="180.4" x2="560.6" y2="180.4" stroke="#000" stroke-width="0.80"/>
<text transform="translate(556.50 184.90) scale(1 1.150)" font-family='"Liberation Serif", "DejaVu Serif", serif' font-size="13.2" font-weight="bold" text-anchor="end" >0.2</text>
<line x1="557.4" y1="76.0" x2="559.2" y2="76.0" stroke="#000" stroke-width="0.80"/>
<line x1="557.4" y1="95.4" x2="559.2" y2="95.4" stroke="#000" stroke-width="0.80"/>
<line x1="557.4" y1="115.0" x2="559.2" y2="115.0" stroke="#000" stroke-width="0.80"/>
<line x1="557.4" y1="148.6" x2="559.2" y2="148.6" stroke="#000" stroke-width="0.80"/>
<line x1="557.4" y1="169.8" x2="559.2" y2="169.8" stroke="#000" stroke-width="0.80"/>
<line x1="562.4" y1="191.7" x2="562.4" y2="188.5" stroke="#000" stroke-width="0.80"/>
<text transform="translate(562.40 200.20) scale(1 1.000)" font-family='"Liberation Serif", "DejaVu Serif", serif' font-size="10.8" font-weight="bold" text-anchor="middle" >0</text>
<line x1="589.8" y1="191.7" x2="589.8" y2="188.5" stroke="#000" stroke-width="0.80"/>
<text transform="translate(589.77 200.20) scale(1 1.000)" font-family='"Liberation Serif", "DejaVu Serif", serif' font-size="10.8" font-weight="bold" text-anchor="middle" >1</text>
<line x1="617.1" y1="191.7" x2="617.1" y2="188.5" stroke="#000" stroke-width="0.80"/>
<text transform="translate(617.14 200.20) scale(1 1.000)" font-family='"Liberation Serif", "DejaVu Serif", serif' font-size="10.8" font-weight="bold" text-anchor="middle" >2</text>
<line x1="644.5" y1="191.7" x2="644.5" y2="188.5" stroke="#000" stroke-width="0.80"/>
<text transform="translate(644.51 200.20) scale(1 1.000)" font-family='"Liberation Serif", "DejaVu Serif", serif' font-size="10.8" font-weight="bold" text-anchor="middle" >3</text>
<line x1="671.9" y1="191.7" x2="671.9" y2="188.5" stroke="#000" stroke-width="0.80"/>
<text transform="translate(671.88 200.20) scale(1 1.000)" font-family='"Liberation Serif", "DejaVu Serif", serif' font-size="10.8" font-weight="bold" text-anchor="middle" >4</text>
<line x1="576.1" y1="191.7" x2="576.1" y2="189.9" stroke="#000" stroke-width="0.80"/>
<line x1="603.5" y1="191.7" x2="603.5" y2="189.9" stroke="#000" stroke-width="0.80"/>
<line x1="630.8" y1="191.7" x2="630.8" y2="189.9" stroke="#000" stroke-width="0.80"/>
<line x1="658.2" y1="191.7" x2="658.2" y2="189.9" stroke="#000" stroke-width="0.80"/>
<circle cx="562.4" cy="100.3" r="2.90" fill="#f00"/>
<circle cx="562.4" cy="165.0" r="2.90" fill="#000"/>
<circle cx="576.1" cy="79.1" r="2.90" fill="#f00"/>
<circle cx="576.1" cy="147.6" r="2.90" fill="#000"/>
<circle cx="589.8" cy="67.7" r="2.90" fill="#f00"/>
<circle cx="589.8" cy="137.8" r="2.90" fill="#000"/>
<circle cx="603.5" cy="68.3" r="2.90" fill="#f00"/>
<circle cx="603.5" cy="138.5" r="2.90" fill="#000"/>
<circle cx="617.1" cy="77.2" r="2.90" fill="#f00"/>
<circle cx="617.1" cy="146.2" r="2.90" fill="#000"/>
<circle cx="630.8" cy="88.5" r="2.90" fill="#f00"/>
<circle cx="630.8" cy="155.8" r="2.90" fill="#000"/>
<circle cx="644.5" cy="99.3" r="2.90" fill="#f00"/>
<circle cx="644.5" cy="164.3" r="2.90" fill="#000"/>
<circle cx="658.2" cy="109.5" r="2.90" fill="#f00"/>
<circle cx="658.2" cy="171.4" r="2.90" fill="#000"/>
<circle cx="671.9" cy="118.5" r="2.90" fill="#f00"/>
<circle cx="671.9" cy="177.6" r="2.90" fill="#000"/>
<text transform="translate(616.44 212.80) scale(1 1.000)" font-family='"Liberation Serif", "DejaVu Serif", serif' font-size="15.0" font-weight="bold" text-anchor="middle" >U<tspan font-size="10.5" dy="4.2">110</tspan><tspan dy="-4.2"> (GPa)</tspan></text>
<text transform="translate(536.20 156.60) rotate(-90) scale(1.000 1.000)" font-family='"Liberation Serif", "DejaVu Serif", serif' font-size="16.2" font-weight="bold" >N</text>
<text transform="translate(530.00 144.70) rotate(-90) scale(1.100 1.000)" font-family='"Liberation Sans", "DejaVu Sans", sans-serif' font-size="10.8" font-weight="normal" >Γ</text>
<text transform="translate(540.90 145.00) rotate(-90) scale(1.000 1.000)" font-family='"Liberation Serif", "DejaVu Serif", serif' font-size="12.3" font-weight="bold" >e</text>
<text transform="translate(536.20 137.70) rotate(-90) scale(1.000 1.000)" font-family='"Liberation Serif", "DejaVu Serif", serif' font-size="16.2" font-weight="bold" >/</text>
<text transform="translate(536.20 136.30) rotate(-90) scale(1.000 1.000)" font-family='"Liberation Serif", "DejaVu Serif", serif' font-size="16.6" font-weight="bold" >N</text>
<text transform="translate(540.10 124.30) rotate(-90) scale(1.000 1.000)" font-family='"Liberation Sans", "DejaVu Sans", sans-serif' font-size="13.0" font-weight="bold" stroke="#000" stroke-width="0.35">e</text>
<text transform="translate(536.10 113.80) rotate(-90) scale(1.240 1.000)" font-family='"Liberation Sans", "DejaVu Sans", sans-serif' font-size="17.2" font-weight="bold" >(</text>
<text transform="translate(536.10 104.10) rotate(-90) scale(1.240 1.000)" font-family='"Liberation Sans", "DejaVu Sans", sans-serif' font-size="17.2" font-weight="bold" >%</text>
<text transform="translate(536.10 83.50) rotate(-90) scale(1.240 1.000)" font-family='"Liberation Sans", "DejaVu Sans", sans-serif' font-size="17.2" font-weight="bold" >)</text>
<line x1="468.5" y1="1.5" x2="684.1" y2="1.5" stroke="#000" stroke-width="1.10"/>
<line x1="468.5" y1="273.6" x2="684.1" y2="273.6" stroke="#000" stroke-width="1.80"/>
<line x1="468.5" y1="1.5" x2="468.5" y2="273.6" stroke="#000" stroke-width="1.50"/>
<line x1="683.5" y1="1.5" x2="683.5" y2="273.6" stroke="#000" stroke-width="1.20"/>
<line x1="468.5" y1="262.0" x2="474.3" y2="262.0" stroke="#000" stroke-width="1.30"/>
<line x1="463.5" y1="262.0" x2="468.5" y2="262.0" stroke="#000" stroke-width="1.30"/>
<line x1="468.5" y1="238.3" x2="471.5" y2="238.3" stroke="#000" stroke-width="1.30"/>
<line x1="465.7" y1="238.3" x2="468.5" y2="238.3" stroke="#000" stroke-width="1.30"/>
<line x1="468.5" y1="214.6" x2="474.3" y2="214.6" stroke="#000" stroke-width="1.30"/>
<line x1="463.5" y1="214.6" x2="468.5" y2="214.6" stroke="#000" stroke-width="1.30"/>
<line x1="468.5" y1="191.0" x2="471.5" y2="191.0" stroke="#000" stroke-width="1.30"/>
<line x1="465.7" y1="191.0" x2="468.5" y2="191.0" stroke="#000" stroke-width="1.30"/>
<line x1="468.5" y1="167.3" x2="474.3" y2="167.3" stroke="#000" stroke-width="1.30"/>
<line x1="463.5" y1="167.3" x2="468.5" y2="167.3" stroke="#000" stroke-width="1.30"/>
<line x1="468.5" y1="143.6" x2="471.5" y2="143.6" stroke="#000" stroke-width="1.30"/>
<line x1="465.7" y1="143.6" x2="468.5" y2="143.6" stroke="#000" stroke-width="1.30"/>
<line x1="468.5" y1="119.9" x2="474.3" y2="119.9" stroke="#000" stroke-width="1.30"/>
<line x1="463.5" y1="119.9" x2="468.5" y2="119.9" stroke="#000" stroke-width="1.30"/>
<line x1="468.5" y1="96.2" x2="471.5" y2="96.2" stroke="#000" stroke-width="1.30"/>
<line x1="465.7" y1="96.2" x2="468.5" y2="96.2" stroke="#000" stroke-width="1.30"/>
<line x1="468.5" y1="72.6" x2="474.3" y2="72.6" stroke="#000" stroke-width="1.30"/>
<line x1="463.5" y1="72.6" x2="468.5" y2="72.6" stroke="#000" stroke-width="1.30"/>
<line x1="468.5" y1="48.9" x2="471.5" y2="48.9" stroke="#000" stroke-width="1.30"/>
<line x1="465.7" y1="48.9" x2="468.5" y2="48.9" stroke="#000" stroke-width="1.30"/>
<line x1="468.5" y1="25.2" x2="474.3" y2="25.2" stroke="#000" stroke-width="1.30"/>
<line x1="463.5" y1="25.2" x2="468.5" y2="25.2" stroke="#000" stroke-width="1.30"/>
<line x1="477.9" y1="273.6" x2="477.9" y2="267.8" stroke="#000" stroke-width="1.30"/>
<text transform="translate(477.90 287.80) scale(1 1.100)" font-family='"Liberation Serif", "DejaVu Serif", serif' font-size="16.0" font-weight="bold" text-anchor="middle" >0</text>
<line x1="502.4" y1="273.6" x2="502.4" y2="270.6" stroke="#000" stroke-width="1.30"/>
<line x1="526.9" y1="273.6" x2="526.9" y2="267.8" stroke="#000" stroke-width="1.30"/>
<text transform="translate(526.90 287.80) scale(1 1.100)" font-family='"Liberation Serif", "DejaVu Serif", serif' font-size="16.0" font-weight="bold" text-anchor="middle" >1</text>
<line x1="551.4" y1="273.6" x2="551.4" y2="270.6" stroke="#000" stroke-width="1.30"/>
<line x1="575.9" y1="273.6" x2="575.9" y2="267.8" stroke="#000" stroke-width="1.30"/>
<text transform="translate(575.90 287.80) scale(1 1.100)" font-family='"Liberation Serif", "DejaVu Serif", serif' font-size="16.0" font-weight="bold" text-anchor="middle" >2</text>
<line x1="600.4" y1="273.6" x2="600.4" y2="270.6" stroke="#000" stroke-width="1.30"/>
<line x1="624.9" y1="273.6" x2="624.9" y2="267.8" stroke="#000" stroke-width="1.30"/>
<text transform="translate(624.90 287.80) scale(1 1.100)" font-family='"Liberation Serif", "DejaVu Serif", serif' font-size="16.0" font-weight="bold" text-anchor="middle" >3</text>
<line x1="649.4" y1="273.6" x2="649.4" y2="270.6" stroke="#000" stroke-width="1.30"/>
<line x1="673.9" y1="273.6" x2="673.9" y2="267.8" stroke="#000" stroke-width="1.30"/>
<text transform="translate(673.90 287.80) scale(1 1.100)" font-family='"Liberation Serif", "DejaVu Serif", serif' font-size="16.0" font-weight="bold" text-anchor="middle" >4</text>
<text transform="translate(579.90 305.00) scale(1 1.080)" font-family='"Liberation Serif", "DejaVu Serif", serif' font-size="18.6" font-weight="bold" text-anchor="middle" >U<tspan font-size="13.2" dy="5.0">110</tspan><tspan dy="-5.0"> (GPa)</tspan></text>
<text transform="translate(469.20 17.80) scale(1 1.040)" font-family='"Liberation Serif", "DejaVu Serif", serif' font-size="18.7" font-weight="bold" text-anchor="start" >(c)</text>
<text transform="translate(473.40 39.60) scale(1 1.050)" font-family='"Liberation Serif", "DejaVu Serif", serif' font-size="16.3" font-weight="bold" text-anchor="start" ><tspan font-style="italic">D</tspan>=24 nm</text>
<text transform="translate(38.00 266.60) scale(1 1.100)" font-family='"Liberation Serif", "DejaVu Serif", serif' font-size="16.0" font-weight="bold" text-anchor="end" >0</text>
<text transform="translate(38.00 219.24) scale(1 1.100)" font-family='"Liberation Serif", "DejaVu Serif", serif' font-size="16.0" font-weight="bold" text-anchor="end" >20</text>
<text transform="translate(38.00 171.88) scale(1 1.100)" font-family='"Liberation Serif", "DejaVu Serif", serif' font-size="16.0" font-weight="bold" text-anchor="end" >40</text>
<text transform="translate(38.00 124.52) scale(1 1.100)" font-family='"Liberation Serif", "DejaVu Serif", serif' font-size="16.0" font-weight="bold" text-anchor="end" >60</text>
<text transform="translate(38.00 77.16) scale(1 1.100)" font-family='"Liberation Serif", "DejaVu Serif", serif' font-size="16.0" font-weight="bold" text-anchor="end" >80</text>
<text transform="translate(38.00 29.80) scale(1 1.100)" font-family='"Liberation Serif", "DejaVu Serif", serif' font-size="16.0" font-weight="bold" text-anchor="end" >100</text>
<text transform="translate(18.20 179.80) rotate(-90) scale(0.930 1.000)" font-family='"Liberation Serif", "DejaVu Serif", serif' font-size="19.4" font-weight="bold">N</text>
<text transform="translate(10.00 166.00) rotate(-90) scale(1.000 1.000)" font-family='"Liberation Serif", "DejaVu Serif", serif' font-size="12.7" font-weight="bold">L</text>
<text transform="translate(22.90 165.50) rotate(-90) scale(1.000 1.000)" font-family='"Liberation Serif", "DejaVu Serif", serif' font-size="12.6" font-weight="bold">e</text>
<text transform="translate(18.20 156.30) rotate(-90) scale(0.930 1.000)" font-family='"Liberation Serif", "DejaVu Serif", serif' font-size="19.4" font-weight="bold">/</text>
<text transform="translate(18.20 151.80) rotate(-90) scale(0.930 1.000)" font-family='"Liberation Serif", "DejaVu Serif", serif' font-size="19.4" font-weight="bold">N</text>
<text transform="translate(22.90 137.30) rotate(-90) scale(1.000 1.000)" font-family='"Liberation Serif", "DejaVu Serif", serif' font-size="12.6" font-weight="bold">e</text>
<text transform="translate(18.40 126.60) rotate(-90) scale(1.000 1.000)" font-family='"Liberation Serif", "DejaVu Serif", serif' font-size="19.5" font-weight="bold">(%)</text>
<circle cx="208.2" cy="63.9" r="2.90" fill="#f00"/>
<text transform="translate(217.00 67.70) scale(1 1.100)" font-family='"Liberation Serif", "DejaVu Serif", serif' font-size="11.0" font-weight="bold" text-anchor="start" ><tspan font-style="italic">x</tspan>=0.08</text>
<circle cx="208.2" cy="78.3" r="2.90" fill="#000"/>
<text transform="translate(217.00 82.10) scale(1 1.100)" font-family='"Liberation Serif", "DejaVu Serif", serif' font-size="11.0" font-weight="bold" text-anchor="start" ><tspan font-style="italic">x</tspan>=0.05</text>
<line x1="122.9" y1="227.6" x2="133.8" y2="227.6" stroke="#000" stroke-width="1.30"/>
<circle cx="128.2" cy="227.6" r="3.80" fill="#000"/>
<text transform="translate(138.10 231.30) scale(1 1.050)" font-family='"Liberation Serif", "DejaVu Serif", serif' font-size="10.7" font-weight="bold" text-anchor="start" ><tspan font-style="italic">L</tspan><tspan font-size="10.8" dy="2.4">1</tspan><tspan dy="-2.4">, </tspan><tspan font-style="italic">x</tspan>=0.05</text>
<line x1="189.7" y1="227.6" x2="200.6" y2="227.6" stroke="#f00" stroke-width="1.30"/>
<rect x="191.6" y="224.2" width="6.9" height="6.9" fill="#f00"/>
<text transform="translate(204.50 231.30) scale(1 1.050)" font-family='"Liberation Serif", "DejaVu Serif", serif' font-size="10.7" font-weight="bold" text-anchor="start" ><tspan font-style="italic">L</tspan><tspan font-size="10.8" dy="2.4">1</tspan><tspan dy="-2.4">, </tspan><tspan font-style="italic">x</tspan>=0.08</text>
<line x1="122.9" y1="244.3" x2="133.8" y2="244.3" stroke="#f00" stroke-width="1.30"/>
<circle cx="128.2" cy="244.3" r="3.80" fill="#f00"/>
<text transform="translate(138.10 248.00) scale(1 1.050)" font-family='"Liberation Serif", "DejaVu Serif", serif' font-size="10.7" font-weight="bold" text-anchor="start" ><tspan font-style="italic">L</tspan><tspan font-size="10.8" dy="2.4">2</tspan><tspan dy="-2.4">, </tspan><tspan font-style="italic">x</tspan>=0.05</text>
<line x1="189.7" y1="244.3" x2="200.6" y2="244.3" stroke="#000" stroke-width="1.30"/>
<rect x="191.6" y="240.9" width="6.9" height="6.9" fill="#000"/>
<text transform="translate(204.50 248.00) scale(1 1.050)" font-family='"Liberation Serif", "DejaVu Serif", serif' font-size="10.7" font-weight="bold" text-anchor="start" ><tspan font-style="italic">L</tspan><tspan font-size="10.8" dy="2.4">2</tspan><tspan dy="-2.4">, </tspan><tspan font-style="italic">x</tspan>=0.08</text>
</svg>
</body></html>
